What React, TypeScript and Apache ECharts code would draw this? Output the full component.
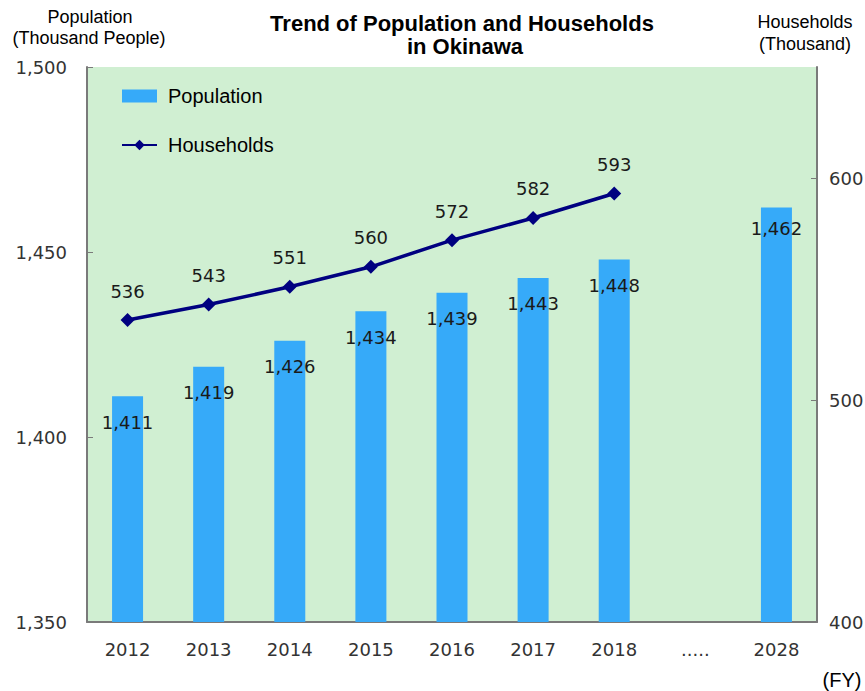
import React, { useEffect, useRef } from 'react';
import * as echarts from 'echarts';

const categories = ['2012', '2013', '2014', '2015', '2016', '2017', '2018', '.....', '2028'];
const population = [1411, 1419, 1426, 1434, 1439, 1443, 1448, null, 1462];
const households = [536, 543, 551, 560, 572, 582, 593, null, null];
const popTicks = [1350, 1400, 1450, 1500];
const hhTicks = [400, 500, 600];

const TICK_FONT = '"DejaVu Sans", Verdana, sans-serif';
const SANS = '"Liberation Sans", Arial, sans-serif';

export default function App() {
  const ref = useRef<HTMLDivElement>(null);
  useEffect(() => {
    const chart = echarts.init(ref.current!, null, { renderer: 'svg' });
    const fmt = (v: number) => Number(v).toLocaleString('en-US');
    const last = population.length - 1;
    chart.setOption({
      animation: false,
      backgroundColor: '#ffffff',
      grid: {
        left: 87, top: 67, right: 48, bottom: 69,
        outerBoundsMode: 'none',
        containLabel: false,
        show: true, backgroundColor: '#D0EFD2', borderWidth: 0,
      },
      legend: {
        orient: 'vertical', left: 121, top: 86, padding: 0,
        itemWidth: 35, itemHeight: 13, itemGap: 29,
        textStyle: { fontFamily: SANS, fontSize: 20, color: '#000', padding: [0, 0, 0, 6] },
        data: [{ name: 'Population', icon: 'rect' }, { name: 'Households' }],
      },
      xAxis: {
        type: 'category', data: categories, boundaryGap: true,
        axisLine: { lineStyle: { color: '#7a7a7a', width: 2 } },
        axisTick: { inside: true, length: 6, lineStyle: { color: '#7a7a7a' } },
        axisLabel: { margin: 18, fontFamily: TICK_FONT, fontSize: 18, color: '#333' },
      },
      yAxis: [
        {
          type: 'value', min: popTicks[0], max: popTicks[popTicks.length - 1], interval: 50,
          position: 'left',
          axisLine: { show: true, lineStyle: { color: '#7a7a7a', width: 2 } },
          axisTick: { show: true, inside: true, length: 6, lineStyle: { color: '#7a7a7a' } },
          splitLine: { show: false },
          axisLabel: { margin: 20, fontFamily: TICK_FONT, fontSize: 18, color: '#333', formatter: (v: number) => fmt(v) },
        },
        {
          type: 'value', min: 400, max: 650, interval: 100,
          position: 'right',
          axisLine: { show: true, lineStyle: { color: '#7a7a7a', width: 2 } },
          axisTick: { show: true, inside: true, length: 6, lineStyle: { color: '#7a7a7a' }, customValues: hhTicks },
          splitLine: { show: false },
          axisLabel: {
            margin: 12, fontFamily: TICK_FONT, fontSize: 18, color: '#333', customValues: hhTicks,
            formatter: (v: number) => (hhTicks.includes(v) ? String(v) : ''),
          },
        },
      ],
      series: [
        {
          name: 'Population', type: 'bar', yAxisIndex: 0, barWidth: 31,
          itemStyle: { color: '#36AAF9' },
          label: {
            show: true, position: 'insideTop', distance: 17,
            fontFamily: TICK_FONT, fontSize: 18, color: '#1a1a1a',
            formatter: (p: any) => fmt(p.value),
          },
          data: population.map((v, i) =>
            v == null ? '-' : i === last ? { value: v, label: { distance: 12 } } : v),
        },
        {
          name: 'Households', type: 'line', yAxisIndex: 1,
          symbol: 'diamond', symbolSize: 14,
          lineStyle: { color: '#000080', width: 3.5 },
          itemStyle: { color: '#000080' },
          label: {
            show: true, position: 'top', distance: 13,
            fontFamily: TICK_FONT, fontSize: 18, color: '#1a1a1a',
          },
          data: households.map((v) => (v == null ? '-' : v)),
          z: 3,
        },
      ],
      graphic: [
        { type: 'text', style: { text: 'Trend of Population and Households', x: 462, y: 23, textAlign: 'center', textVerticalAlign: 'middle', font: `bold 22px ${SANS}`, fill: '#000' } },
        { type: 'text', style: { text: 'in Okinawa', x: 465, y: 46, textAlign: 'center', textVerticalAlign: 'middle', font: `bold 22px ${SANS}`, fill: '#000' } },
        { type: 'text', style: { text: 'Population', x: 90, y: 17, textAlign: 'center', textVerticalAlign: 'middle', font: `18px ${SANS}`, fill: '#000' } },
        { type: 'text', style: { text: '(Thousand People)', x: 89, y: 38, textAlign: 'center', textVerticalAlign: 'middle', font: `18px ${SANS}`, fill: '#000' } },
        { type: 'text', style: { text: 'Households', x: 805, y: 22, textAlign: 'center', textVerticalAlign: 'middle', font: `18px ${SANS}`, fill: '#000' } },
        { type: 'text', style: { text: '(Thousand)', x: 805, y: 44, textAlign: 'center', textVerticalAlign: 'middle', font: `18px ${SANS}`, fill: '#000' } },
        { type: 'text', style: { text: '(FY)', x: 842, y: 680, textAlign: 'center', textVerticalAlign: 'middle', font: `20px ${SANS}`, fill: '#000' } },
      ],
    });
    return () => chart.dispose();
  }, []);
  return <div ref={ref} style={{ position: 'fixed', left: 0, top: 0, width: 865, height: 691 }} />;
}
